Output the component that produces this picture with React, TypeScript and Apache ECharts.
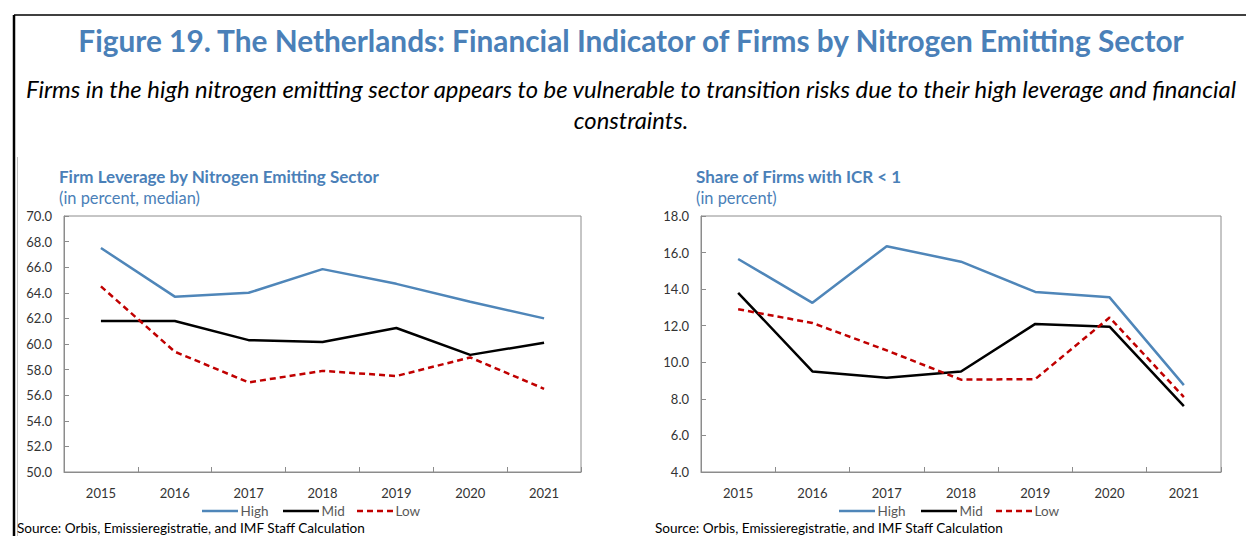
import React, { useEffect, useRef } from "react";
import * as echarts from "echarts";

const years = ["2015", "2016", "2017", "2018", "2019", "2020", "2021"];

const leverageHigh = [67.5, 63.7, 64.0, 65.85, 64.7, 63.3, 62.0];
const leverageMid = [61.8, 61.8, 60.3, 60.15, 61.25, 59.15, 60.1];
const leverageLow = [64.5, 59.4, 57.0, 57.9, 57.5, 58.95, 56.5];

const icrHigh = [15.65, 13.25, 16.35, 15.5, 13.85, 13.55, 8.75];
const icrMid = [13.8, 9.5, 9.15, 9.5, 12.1, 11.95, 7.6];
const icrLow = [12.9, 12.15, 10.65, 9.05, 9.08, 12.45, 8.1];

const seriesNames = ["High", "Mid", "Low"];

const BLUE = "#4f86b9";
const TITLE_BLUE = "#4a80b8";
const RED = "#c00000";
const FONT = "Lato, 'Open Sans', sans-serif";

const lineStyleFor = (name: string) =>
  name === "High"
    ? { color: BLUE, width: 2.5, type: "solid" as any }
    : name === "Mid"
    ? { color: "#000", width: 2.5, type: "solid" as any }
    : { color: RED, width: 2.5, type: [6, 4] as any };

export default function App() {
  const ref = useRef<HTMLDivElement>(null);
  useEffect(() => {
    if (!ref.current) return;
    const chart = echarts.init(ref.current, undefined, { renderer: "svg" });

    const axisCommon = (gridIndex: number) => ({
      type: "category" as const,
      gridIndex,
      data: years,
      boundaryGap: true,
      axisLine: { show: true, lineStyle: { color: "#8c8c8c", width: 1 } },
      axisTick: { show: true, inside: true, length: 5, lineStyle: { color: "#8c8c8c" } },
      axisLabel: { color: "#333", fontSize: 13, fontFamily: FONT, margin: 14 },
      splitLine: { show: false },
    });
    const yCommon = (gridIndex: number, min: number, max: number) => ({
      type: "value" as const,
      gridIndex,
      min,
      max,
      interval: 2,
      axisLine: { show: true, lineStyle: { color: "#8c8c8c", width: 1 } },
      axisTick: { show: true, inside: true, length: 5, lineStyle: { color: "#8c8c8c" } },
      axisLabel: {
        color: "#333",
        fontSize: 13,
        fontFamily: FONT,
        margin: 12,
        formatter: (v: number) => v.toFixed(1),
      },
      splitLine: { show: false },
    });

    const mk = (name: string, data: number[], idx: number) => {
      const style = lineStyleFor(name);
      return {
        type: "line" as const,
        name,
        xAxisIndex: idx,
        yAxisIndex: idx,
        data,
        symbol: "none",
        lineStyle: style,
        itemStyle: { color: style.color },
      };
    };

    const text = (
      x: number,
      y: number,
      str: string,
      opts: Record<string, any> = {}
    ) => ({
      type: "text" as const,
      x,
      y,
      style: {
        text: str,
        fontFamily: FONT,
        fill: "#000",
        fontSize: 13,
        textVerticalAlign: "middle",
        ...opts,
      },
    });

    const legendGraphics = (starts: number[]) => {
      const out: any[] = [];
      seriesNames.forEach((name, i) => {
        const s = lineStyleFor(name);
        const x0 = starts[i];
        out.push({
          type: "line",
          shape: { x1: x0, y1: 511, x2: x0 + 36, y2: 511 },
          style: { stroke: s.color, lineWidth: 2.5, lineDash: Array.isArray(s.type) ? s.type : null },
        });
        out.push(text(x0 + 38.5, 511, name, { fill: "#595959", fontSize: 13.5 }));
      });
      return out;
    };

    chart.setOption({
      animation: false,
      backgroundColor: "#fff",
      grid: [
        { left: 64, top: 216, width: 517, height: 256, show: true, borderColor: "#8c8c8c", borderWidth: 1, backgroundColor: "transparent" },
        { left: 701, top: 216, width: 520, height: 256, show: true, borderColor: "#8c8c8c", borderWidth: 1, backgroundColor: "transparent" },
      ],
      xAxis: [axisCommon(0), axisCommon(1)],
      yAxis: [yCommon(0, 50, 70), yCommon(1, 4, 18)],
      series: [
        mk("High", leverageHigh, 0),
        mk("Mid", leverageMid, 0),
        mk("Low", leverageLow, 0),
        mk("High", icrHigh, 1),
        mk("Mid", icrMid, 1),
        mk("Low", icrLow, 1),
      ],
      graphic: [
        { type: "line", shape: { x1: 14, y1: 15, x2: 1246, y2: 15 }, style: { stroke: "#000", lineWidth: 1.5 } },
        { type: "line", shape: { x1: 14, y1: 15, x2: 14, y2: 536 }, style: { stroke: "#000", lineWidth: 2.5 } },
        { type: "line", shape: { x1: 17.5, y1: 157, x2: 17.5, y2: 536 }, style: { stroke: "#bfbfbf", lineWidth: 1 } },
        text(631, 40, "Figure 19. The Netherlands: Financial Indicator of Firms by Nitrogen Emitting Sector", {
          fontSize: 29.8,
          fontWeight: "bold",
          fill: TITLE_BLUE,
          textAlign: "center",
        }),
        text(631, 89, "Firms in the high nitrogen emitting sector appears to be vulnerable to transition risks due to their high leverage and financial", {
          fontSize: 23.8,
          fontStyle: "italic",
          textAlign: "center",
        }),
        text(631, 120, "constraints.", { fontSize: 23.8, fontStyle: "italic", textAlign: "center" }),
        text(59, 176, "Firm Leverage by Nitrogen Emitting Sector", { fontSize: 17, fontWeight: "bold", fill: TITLE_BLUE }),
        text(59, 197, "(in percent, median)", { fontSize: 16.4, fill: TITLE_BLUE }),
        text(696, 176, "Share of Firms with ICR < 1", { fontSize: 17, fontWeight: "bold", fill: TITLE_BLUE }),
        text(696, 197, "(in percent)", { fontSize: 16.4, fill: TITLE_BLUE }),
        ...legendGraphics([202, 283, 357]),
        ...legendGraphics([839, 921, 996]),
        text(17, 528, "Source: Orbis, Emissieregistratie, and IMF Staff Calculation", { fontSize: 13.6 }),
        text(655, 528, "Source: Orbis, Emissieregistratie, and IMF Staff Calculation", { fontSize: 13.6 }),
      ],
    });
    return () => chart.dispose();
  }, []);
  return (
    <div
      ref={ref}
      style={{ position: "absolute", left: 0, top: 0, width: 1246, height: 536 }}
    />
  );
}
